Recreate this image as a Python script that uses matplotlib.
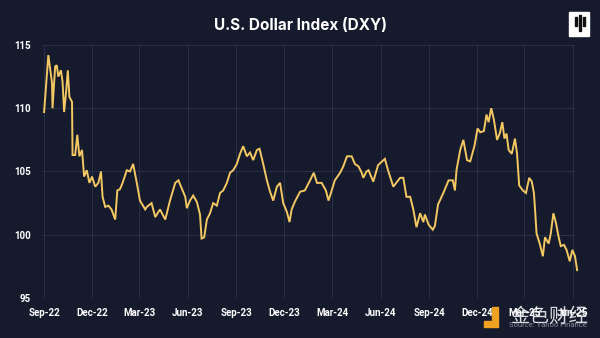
import numpy as np
import pandas as pd
import matplotlib
matplotlib.use("Agg")
from matplotlib import pyplot as plt
import matplotlib.dates as mdates
from matplotlib.patches import Rectangle

# days after 2022-09-01 and index level
days = [0, 8, 15, 16, 21, 24, 27, 32, 35, 38, 42, 45, 48, 53, 54, 59, 63, 67, 72,
        76, 81, 86, 91, 97, 103, 108, 111, 116, 122, 128, 135, 139, 144, 149, 157,
        163, 169, 176, 182, 192, 195, 204, 211, 220, 230, 239, 249, 255, 261, 268,
        271, 277, 283, 290, 296, 299, 304, 309, 315, 321, 328, 334, 340, 347, 353,
        359, 366, 372, 378, 385, 391, 397, 404, 409, 416, 423, 429, 435, 442, 448,
        454, 461, 466, 470, 476, 486, 495, 505, 512, 518, 527, 535, 540, 546, 552,
        562, 568, 575, 584, 590, 597, 603, 606, 612, 616, 625, 634, 647, 653, 663,
        676, 682, 688, 695, 701, 707, 714, 720, 723, 730, 738, 742, 748, 758, 768,
        776, 780, 783, 790, 796, 803, 809, 817, 823, 828, 835, 840, 844, 849, 854,
        860, 865, 870, 874, 878, 882, 888, 894, 898, 902, 909, 915, 921, 926, 930,
        932, 935, 941, 947, 951, 958, 962, 967, 972, 977, 981, 987, 992, 998, 1003,
        1008, 1012]
dxy = [109.7, 114.2, 112.0, 110.0, 113.3, 113.4, 112.5, 113.0, 112.1, 109.7, 111.4,
       113.0, 110.9, 110.5, 106.3, 106.3, 107.9, 106.2, 106.7, 104.6, 105.1, 104.1,
       104.6, 103.8, 104.1, 105.0, 103.0, 102.2, 102.3, 102.0, 101.2, 103.5, 103.6,
       104.1, 105.1, 105.0, 105.6, 104.1, 102.7, 102.0, 102.2, 102.5, 101.4, 102.0,
       101.2, 102.7, 104.1, 104.3, 103.7, 103.0, 102.1, 102.7, 103.1, 102.6, 101.6,
       99.7, 99.8, 101.2, 101.7, 102.5, 102.3, 103.3, 103.5, 104.1, 104.9, 105.1,
       105.6, 106.4, 107.0, 106.2, 106.5, 105.9, 106.7, 106.8, 105.6, 104.3, 103.4,
       102.7, 103.8, 104.1, 102.5, 101.8, 101.0, 102.0, 102.6, 103.4, 103.5, 104.3,
       104.9, 104.1, 104.1, 103.5, 102.7, 103.5, 104.3, 104.9, 105.4, 106.2, 106.2,
       105.6, 105.4, 104.9, 104.5, 105.0, 105.1, 104.2, 105.5, 106.0, 105.1, 103.8,
       104.5, 104.5, 103.0, 103.0, 102.0, 100.6, 101.7, 101.0, 101.6, 100.8, 100.4,
       100.7, 102.4, 103.3, 104.3, 104.3, 103.5, 105.1, 106.7, 107.5, 105.9, 105.8,
       107.0, 108.4, 108.1, 108.2, 109.5, 108.9, 110.0, 109.1, 107.5, 108.0, 108.9,
       107.6, 108.0, 106.7, 106.4, 107.6, 106.4, 103.9, 103.5, 103.3, 104.5, 104.2,
       103.3, 102.1, 100.1, 99.3, 98.3, 99.8, 99.3, 100.1, 101.7, 100.9, 99.8, 99.1,
       99.2, 98.8, 97.9, 98.8, 98.3, 97.2]

tick_dates = pd.date_range("2022-09-01", "2025-06-01", freq="3MS")
y_ticks = [95, 100, 105, 110, 115]

bg = "#161a2d"
gold = "#f3c862"

dates = pd.Timestamp("2022-09-01") + pd.to_timedelta(days, unit="D")

fig = plt.figure(figsize=(6, 3.38), dpi=100, facecolor=bg)
ax = fig.add_axes([42 / 600, 1 - 298 / 338, 533 / 600, 253 / 338], facecolor=bg)

ax.plot(dates, dxy, color=gold, lw=1.4, clip_on=False, zorder=3,
        solid_joinstyle="miter")

ax.set_ylim(95, 115)
ax.set_yticks(y_ticks)
ax.set_xlim(pd.Timestamp("2022-08-28"), pd.Timestamp("2025-06-05"))
ax.set_xticks(tick_dates)
ax.xaxis.set_major_formatter(mdates.DateFormatter("%b-%y"))

ax.grid(True, color="#2b3049", lw=0.7)
for s in ax.spines.values():
    s.set_visible(False)
ax.tick_params(length=0, colors="white", labelsize=7)
ax.tick_params(axis="y", pad=8)
ax.tick_params(axis="x", pad=7)
for lab in ax.get_xticklabels() + ax.get_yticklabels():
    lab.set_fontfamily("Roboto")
    lab.set_fontweight("bold")

fig.text(0.5, 1 - 25 / 338, "U.S. Dollar Index (DXY)", color="white",
         fontsize=11, fontweight="bold", family="Inter", ha="center", va="center")

# logo box top right
fig.patches.append(Rectangle((569 / 600, 1 - 36 / 338), 20 / 600, 24 / 338,
                             transform=fig.transFigure, color="white"))
for bx, top, bot in [(575, 17, 26), (579, 15, 31), (583, 17, 26)]:
    fig.patches.append(Rectangle((bx / 600, 1 - bot / 338), 1.6 / 600, (bot - top) / 338,
                                 transform=fig.transFigure, color="#111111"))

# source + watermark
fig.text(587 / 600, 1 - 325 / 338, "Source: Yahoo Finance", color="#8a8c99",
         fontsize=5.5, ha="right", va="center", family="Roboto")
fig.patches.append(Rectangle((484 / 600, 1 - 327 / 338), 14 / 600, 6 / 338,
                             transform=fig.transFigure, color="#f0a020"))
fig.patches.append(Rectangle((492 / 600, 1 - 321 / 338), 6 / 600, 14 / 338,
                             transform=fig.transFigure, color="#f0a020"))
fig.text(549 / 600, 1 - 316 / 338, "金色财经", color="white", alpha=0.85,
         fontsize=14, ha="center", va="center", family=["Noto Sans CJK SC", "DejaVu Sans"])

fig.savefig("out.png", dpi=100, facecolor=bg)
